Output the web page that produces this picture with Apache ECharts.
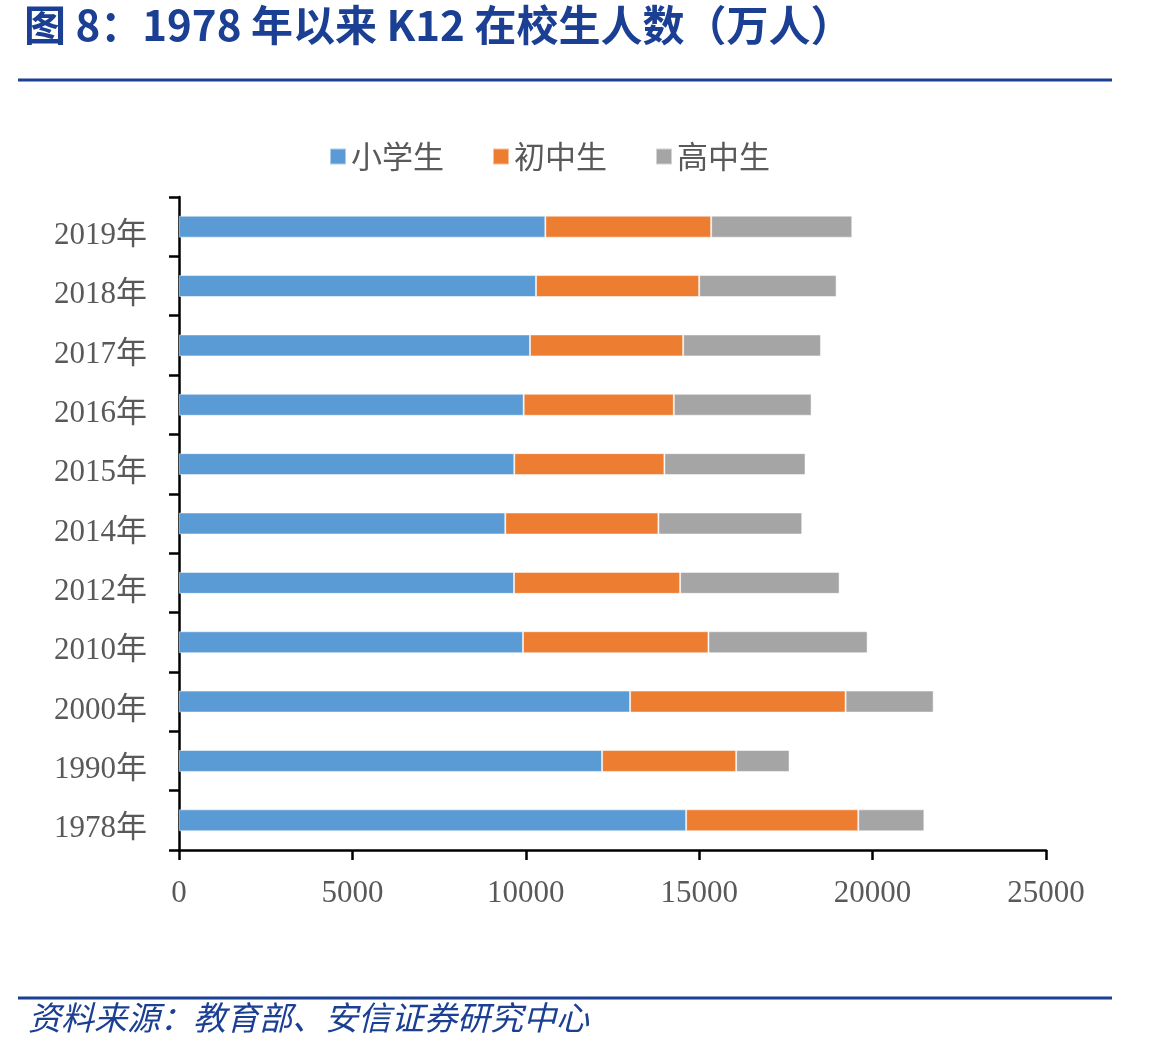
<!DOCTYPE html>
<html>
<head>
<meta charset="utf-8">
<script src="https://cdn.jsdelivr.net/npm/echarts@6/dist/echarts.min.js"></script>
<style>
html,body{margin:0;padding:0;background:#fff;}
#chart{width:1162px;height:1049px;}
</style>
</head>
<body>
<div id="chart"></div>
<script>
var categories = ['1978年','1990年','2000年','2010年','2012年','2014年','2015年','2016年','2017年','2018年','2019年'];
var primary = [14623, 12199, 13007, 9919, 9660, 9408, 9668, 9939, 10121, 10294, 10563];
var junior  = [4964, 3867, 6214, 5348, 4790, 4416, 4329, 4329, 4416, 4705, 4782];
var senior  = [1905, 1539, 2539, 4589, 4598, 4147, 4069, 3972, 3974, 3962, 4069];
var seriesNames = ['小学生','初中生','高中生'];
var xTicks = [0, 5000, 10000, 15000, 20000, 25000];
var titleText = '图 8：1978 年以来 K12 在校生人数（万人）';
var sourceText = '资料来源：教育部、安信证券研究中心';

var chart = echarts.init(document.getElementById('chart'), null, {renderer:'canvas'});
var colors = ['#5B9BD5','#ED7D31','#A5A5A5'];
var dataSets = [primary, junior, senior];
var serif = '"Liberation Serif","Noto Sans CJK SC",serif';
var cjk = '"Noto Sans CJK SC",sans-serif';
var blue = '#1b3f93';

var option = {
  animation: false,
  backgroundColor: '#fff',
  color: colors,
  legend: {
    data: seriesNames,
    left: 324,
    top: 136,
    itemWidth: 16,
    itemHeight: 16,
    itemGap: 48,
    icon: 'rect',
    textStyle: {fontSize: 31, color: '#595959', fontFamily: cjk}
  },
  grid: {left: 179, right: 116, top: 197, bottom: 199, containLabel: false},
  xAxis: {
    type: 'value',
    min: xTicks[0],
    max: xTicks[xTicks.length-1],
    interval: xTicks[1]-xTicks[0],
    splitLine: {show: false},
    axisLine: {show: true, lineStyle: {color: '#000', width: 2.5}},
    axisTick: {show: true, length: 10, lineStyle: {color: '#000', width: 2.5}},
    axisLabel: {margin: 28, fontSize: 31, color: '#595959', fontFamily: serif,
      formatter: function(v){ return String(v); }}
  },
  yAxis: {
    type: 'category',
    data: categories,
    axisLine: {show: true, lineStyle: {color: '#000', width: 2.5}},
    axisTick: {show: true, length: 10, lineStyle: {color: '#000', width: 2.5}},
    axisLabel: {margin: 32, fontSize: 31, color: '#595959', fontFamily: serif,
      verticalAlign: 'top', lineHeight: 18}
  },
  series: seriesNames.map(function(n, i){
    return {
      name: n,
      type: 'bar',
      stack: 'total',
      barCategoryGap: '63%',
      data: dataSets[i],
      itemStyle: {borderColor: 'rgba(255,255,255,0.5)', borderWidth: 1}
    };
  }),
  graphic: [
    {type:'text', left: 24, top: 4, style:{text: titleText, fontSize: 42, fontWeight: 'bold', fill: blue, fontFamily: cjk}},
    {type:'line', shape:{x1:18, y1:80, x2:1112, y2:80}, style:{stroke: blue, lineWidth: 3}},
    {type:'line', shape:{x1:18, y1:998, x2:1112, y2:998}, style:{stroke: blue, lineWidth: 3}},
    {type:'text', left: 28, top: 1001, style:{text: sourceText, fontSize: 33, fontStyle: 'italic', fill: blue, fontFamily: cjk}}
  ]
};
chart.setOption(option);
</script>
</body>
</html>
